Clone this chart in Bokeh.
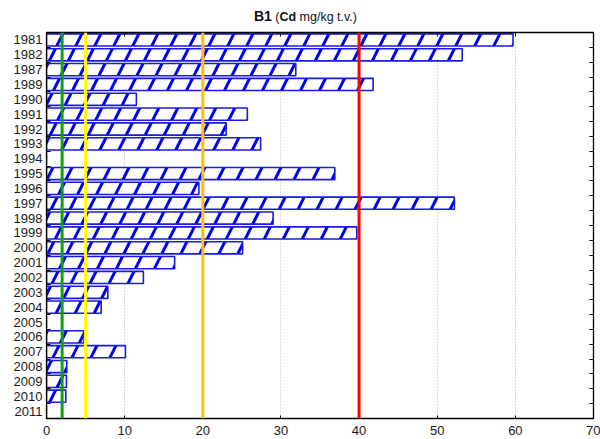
from bokeh.plotting import figure
from bokeh.models import Range1d, FixedTicker, LinearAxis, Span, ColumnDataSource, Div
from bokeh.layouts import column
from bokeh.embed import file_html
from bokeh.resources import INLINE

years = ["1981", "1982", "1987", "1989", "1990", "1991", "1992", "1993", "1994",
         "1995", "1996", "1997", "1998", "1999", "2000", "2001", "2002", "2003",
         "2004", "2005", "2006", "2007", "2008", "2009", "2010", "2011"]
cd_values = [59.7, 53.2, 31.9, 41.8, 11.5, 25.7, 23.0, 27.4, 0.0,
             36.9, 19.5, 52.2, 29.0, 39.7, 25.1, 16.4, 12.4, 7.85,
             7.0, 0.0, 4.8, 10.1, 2.6, 2.55, 2.47, 0.0]
limit_values = [2, 5, 20, 40]
limit_colors = ["#10a010", "#ffff00", "#ffc000", "#ff0000"]
x_ticks = [0, 10, 20, 30, 40, 50, 60, 70]

n = len(years)
idx = list(range(n))
src = ColumnDataSource(dict(y=idx, right=cd_values, year=years))

FONT = "Liberation Sans"

title = Div(
    text=('<div style="font-family:\'Liberation Sans\',Arial,sans-serif; color:#111; '
          'white-space:nowrap; padding-left:254px; padding-top:9px; line-height:14px;">'
          '<b style="font-size:14px">B1</b> '
          '<span style="font-size:12.5px">(<b>Cd</b> mg/kg t.v.)</span></div>'),
    width=600, height=24, margin=0)

p = figure(width=600, height=413, output_backend="svg", toolbar_location=None,
           x_range=Range1d(0, 70), y_range=Range1d(n - 0.5, -0.5),
           x_axis_location=None, y_axis_location=None,
           min_border_left=46, min_border_right=7, min_border_top=8, min_border_bottom=0)

p.hbar(y="y", left=0, right="right", height=0.82, source=src,
       fill_color="white", line_color="#1a1ae6", line_width=1.6,
       hatch_pattern="/", hatch_color="#0000f0", hatch_weight=3, hatch_scale=38)

for v, c in zip(limit_values, limit_colors):
    p.add_layout(Span(location=v, dimension="height", line_color=c, line_width=3))

yticker = FixedTicker(ticks=idx, minor_ticks=[i - 0.5 for i in range(n + 1)])
xticker = FixedTicker(ticks=x_ticks)

def style(ax):
    ax.axis_line_color = "black"
    ax.axis_line_width = 1.3
    ax.major_tick_line_color = "black"
    ax.minor_tick_line_color = "black"
    ax.major_label_text_font = FONT
    ax.major_label_text_font_size = "13px"
    ax.major_label_text_color = "#1a1a1a"

left = LinearAxis(ticker=yticker, major_label_overrides={i: y for i, y in enumerate(years)})
style(left)
left.major_tick_in = 0
left.major_tick_out = 0
left.minor_tick_in = 4
left.minor_tick_out = 0
left.major_label_standoff = 4
p.add_layout(left, "left")

right = LinearAxis(ticker=yticker, major_label_overrides={i: "" for i in idx})
style(right)
right.major_tick_in = 0
right.major_tick_out = 0
right.minor_tick_in = 4
right.minor_tick_out = 0
right.major_label_standoff = 0
p.add_layout(right, "right")

bottom = LinearAxis(ticker=xticker)
style(bottom)
bottom.major_tick_in = 3
bottom.major_tick_out = 0
bottom.minor_tick_line_color = None
bottom.major_label_standoff = 7
p.add_layout(bottom, "below")

top = LinearAxis(ticker=xticker, major_label_overrides={t: "" for t in x_ticks})
style(top)
top.major_tick_in = 4
top.major_tick_out = 0
top.minor_tick_line_color = None
top.major_label_standoff = 0
p.add_layout(top, "above")

p.xgrid.ticker = xticker
p.xgrid.grid_line_color = "#b8b8b8"
p.xgrid.grid_line_dash = "1 2"
p.ygrid.grid_line_color = None
p.outline_line_color = "black"

layout = column(title, p, spacing=0)
open("out.html", "w").write(file_html(layout, INLINE))
